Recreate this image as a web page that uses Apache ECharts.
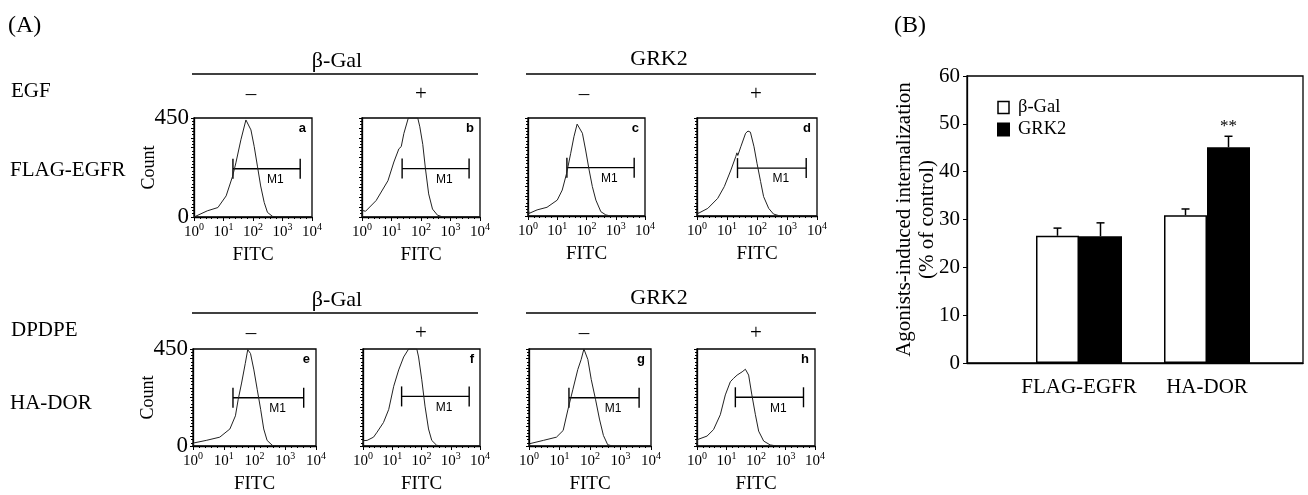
<!DOCTYPE html>
<html>
<head>
<meta charset="utf-8">
<script src="https://cdn.jsdelivr.net/npm/echarts@6/dist/echarts.min.js"></script>
<style>
html, body { margin: 0; padding: 0; background: #fff; }
#main { width: 1308px; height: 495px; }
</style>
</head>
<body>
<div id="main"></div>
<script>
// (A) flow histograms, points are [log10 FITC, count]
var histA = [[0,0],[0.03,9],[0.45,28],[0.81,43],[1.09,96],[1.31,186],[1.42,246],[1.59,351],[1.76,441],[1.82,450],[1.93,396],[2.04,321],[2.15,231],[2.26,141],[2.38,66],[2.49,21],[2.66,3],[2.82,0],[4,0]];
var histB = [[0,0],[0.01,30],[0.12,26],[0.48,75],[0.88,165],[1.08,250],[1.25,310],[1.33,320],[1.42,380],[1.57,450],[1.89,450],[1.96,410],[2.06,330],[2.15,220],[2.26,105],[2.39,36],[2.56,8],[2.75,0],[4,0]];
var histC = [[0,0],[0.01,30],[0.04,12],[0.31,28],[0.65,40],[1.0,73],[1.17,119],[1.32,196],[1.46,288],[1.57,364],[1.68,422],[1.74,425],[1.86,380],[1.97,303],[2.09,211],[2.2,135],[2.32,73],[2.49,20],[2.66,5],[2.83,0],[4,0]];
var histD = [[0,0],[0.01,25],[0.04,12],[0.36,35],[0.69,81],[0.91,135],[1.13,211],[1.29,272],[1.33,290],[1.36,278],[1.46,318],[1.62,380],[1.7,390],[1.78,385],[1.9,318],[2.0,242],[2.12,158],[2.22,89],[2.39,35],[2.55,9],[2.77,0],[4,0]];
var histE = [[0,0],[0.02,14],[0.43,26],[0.87,41],[1.2,79],[1.38,140],[1.47,216],[1.58,292],[1.7,383],[1.78,447],[1.87,429],[1.98,353],[2.09,261],[2.2,170],[2.3,79],[2.41,26],[2.58,3],[2.74,0],[4,0]];
var histF = [[0,0],[0.02,25],[0.14,26],[0.36,41],[0.48,64],[0.7,109],[0.88,170],[1.05,277],[1.22,353],[1.39,413],[1.56,450],[1.84,450],[1.9,413],[2.01,307],[2.12,185],[2.24,79],[2.35,26],[2.52,3],[2.75,0],[4,0]];
var histG = [[0,0],[0.03,11],[0.47,26],[0.9,41],[1.12,72],[1.28,171],[1.44,263],[1.6,355],[1.71,401],[1.8,450],[1.93,401],[2.04,309],[2.18,217],[2.31,125],[2.44,49],[2.58,6],[2.74,0],[4,0]];
var histH = [[0,0],[0.02,30],[0.06,25],[0.34,46],[0.56,76],[0.79,145],[0.96,237],[1.13,298],[1.24,314],[1.36,329],[1.53,344],[1.64,356],[1.75,329],[1.86,237],[1.98,145],[2.09,69],[2.26,23],[2.48,5],[2.71,0],[4,0]];
var panelLetters = ['a', 'b', 'c', 'd', 'e', 'f', 'g', 'h'];
// M1 marker: [from, to, level]
var gates = [[1.32,3.6,219],[1.36,3.63,220],[1.33,3.63,222],[1.35,3.64,220],[1.3,3.6,224],[1.32,3.63,230],[1.31,3.61,224],[1.3,3.61,226]];
var xTicksA = [0, 1, 2, 3, 4];
var yMaxA = 450;

// (B) internalization
var groups = ['FLAG-EGFR', 'HA-DOR'];
var betaGal = [26.6, 30.9];
var betaGalErr = [1.6, 1.3];
var grk2 = [26.5, 45.1];
var grk2Err = [2.8, 2.3];
var signif = ['', '**'];

var serif = 'Liberation Serif';
var hists = [histA, histB, histC, histD, histE, histF, histG, histH];
// left, top, width, height of each small plot
var boxes = [[194,118,118,99],[362,118,118,99],[528,118,117,98],[697,118,120,98],
             [193,349,123,98],[363,349,117,98],[529,349,122,98],[697,349,118,99]];

var grids = [], xAxes = [], yAxes = [], series = [], graphics = [];

hists.forEach(function (h, i) {
    var b = boxes[i];
    var first = (i === 0 || i === 4);
    grids.push({left: b[0], top: b[1], width: b[2], height: b[3], show: true,
        borderColor: '#000', borderWidth: 1.3});
    xAxes.push({
        gridIndex: i, type: 'value', min: xTicksA[0], max: xTicksA[xTicksA.length - 1], interval: 1,
        axisLine: {lineStyle: {color: '#000', width: 1.3}},
        axisTick: {length: 4, lineStyle: {color: '#000'}},
        minorTick: {show: true, splitNumber: 5, length: 2, lineStyle: {color: '#000'}},
        splitLine: {show: false},
        axisLabel: {
            margin: 5, color: '#000',
            formatter: function (v) { return '{b|10}{s|' + v + '}'; },
            rich: {
                b: {fontFamily: serif, fontSize: 15, lineHeight: 18, verticalAlign: 'bottom', color: '#000'},
                s: {fontFamily: serif, fontSize: 10, lineHeight: 10, verticalAlign: 'top', color: '#000'}
            }
        },
        name: 'FITC', nameLocation: 'middle', nameGap: 29,
        nameTextStyle: {fontFamily: serif, fontSize: 19, color: '#000'}
    });
    yAxes.push({
        gridIndex: i, type: 'value', min: 0, max: yMaxA, interval: 45,
        axisLine: {lineStyle: {color: '#000', width: 1.3}},
        axisTick: {length: 3, lineStyle: {color: '#000'}},
        minorTick: {show: true, splitNumber: 3, length: 2, lineStyle: {color: '#000'}},
        splitLine: {show: false},
        axisLabel: {
            show: first, margin: 5, color: '#000', fontFamily: serif, fontSize: 23,
            formatter: function (v) { return (v === 0 || v === yMaxA) ? v : ''; }
        },
        name: first ? 'Count' : '', nameLocation: 'middle', nameRotate: 90, nameGap: 36,
        nameMoveOverlap: false,
        nameTextStyle: {fontFamily: serif, fontSize: 18, color: '#000'}
    });
    series.push({
        type: 'line', xAxisIndex: i, yAxisIndex: i, data: h, showSymbol: false,
        silent: true, lineStyle: {color: '#222', width: 1}
    });
    series.push({
        type: 'custom', xAxisIndex: i, yAxisIndex: i, data: [gates[i]], silent: true,
        renderItem: function (params, api) {
            var p1 = api.coord([api.value(0), api.value(2)]);
            var p2 = api.coord([api.value(1), api.value(2)]);
            var st = {stroke: '#000', lineWidth: 1.4};
            return {type: 'group', children: [
                {type: 'line', shape: {x1: p1[0], y1: p1[1], x2: p2[0], y2: p2[1]}, style: st},
                {type: 'line', shape: {x1: p1[0], y1: p1[1] - 10, x2: p1[0], y2: p1[1] + 10}, style: st},
                {type: 'line', shape: {x1: p2[0], y1: p2[1] - 10, x2: p2[0], y2: p2[1] + 10}, style: st},
                {type: 'text', x: p1[0] + 0.63 * (p2[0] - p1[0]), y: p1[1] + 11,
                    style: {text: 'M1', fontFamily: 'Liberation Sans', fontSize: 12, fill: '#000',
                        align: 'center', verticalAlign: 'middle'}}
            ]};
        }
    });
    graphics.push({type: 'text', x: b[0] + b[2] - 6, y: b[1] + 10,
        style: {text: panelLetters[i], fontFamily: 'Liberation Sans', fontWeight: 'bold', fontSize: 13,
            fill: '#000', align: 'right', verticalAlign: 'middle'}});
});

// panel B: frame grid (8) and bar grid (9)
grids.push({left: 967, top: 76, right: 5, height: 287, show: true, borderColor: '#000', borderWidth: 1.3});
grids.push({left: 1015, top: 76, width: 256, height: 287});
xAxes.push({gridIndex: 8, type: 'value', min: 0, max: 1, axisLine: {lineStyle: {color: '#000', width: 1.3}},
    axisTick: {show: false}, axisLabel: {show: false}, splitLine: {show: false}});
yAxes.push({gridIndex: 8, type: 'value', min: 0, max: 60, interval: 10,
    axisLine: {show: true, lineStyle: {color: '#000', width: 1.3}},
    axisTick: {show: true, length: 4, lineStyle: {color: '#000'}},
    splitLine: {show: false},
    axisLabel: {margin: 7, color: '#000', fontFamily: serif, fontSize: 21},
    name: 'Agonists-induced internalization\n(% of control)', nameLocation: 'middle', nameRotate: 90,
    nameGap: 28, nameMoveOverlap: false,
    nameTextStyle: {fontFamily: serif, fontSize: 21, lineHeight: 23, color: '#000'}});
xAxes.push({gridIndex: 9, type: 'category', data: groups, axisLine: {show: false}, axisTick: {show: false},
    axisLabel: {interval: 0, margin: 14, color: '#000', fontFamily: serif, fontSize: 21}});
yAxes.push({gridIndex: 9, type: 'value', min: 0, max: 60, show: false});

var barW = 43;
series.push({name: 'β-Gal', type: 'bar', xAxisIndex: 9, yAxisIndex: 9, data: betaGal, barWidth: barW,
    barGap: '0%', itemStyle: {color: '#fff', borderColor: '#000', borderWidth: 1.5}});
series.push({name: 'GRK2', type: 'bar', xAxisIndex: 9, yAxisIndex: 9, data: grk2, barWidth: barW,
    barGap: '0%', itemStyle: {color: '#000', borderColor: '#000', borderWidth: 1.5}});

var errData = [];
groups.forEach(function (g, k) {
    errData.push([k, betaGal[k], betaGalErr[k], -1, '']);
    errData.push([k, grk2[k], grk2Err[k], 1, signif[k]]);
});
series.push({
    type: 'custom', xAxisIndex: 9, yAxisIndex: 9, data: errData, silent: true,
    renderItem: function (params, api) {
        var base = api.coord([api.value(0), api.value(1)]);
        var top = api.coord([api.value(0), api.value(1) + api.value(2)]);
        var x = base[0] + api.value(3) * barW / 2;
        var st = {stroke: '#000', lineWidth: 1.5};
        var kids = [
            {type: 'line', shape: {x1: x, y1: base[1], x2: x, y2: top[1]}, style: st},
            {type: 'line', shape: {x1: x - 4, y1: top[1], x2: x + 4, y2: top[1]}, style: st}
        ];
        var sig = errData[params.dataIndex][4];
        if (sig) {
            kids.push({type: 'text', x: x, y: top[1] - 10, style: {text: sig, fontFamily: serif,
                fontSize: 17, fill: '#000', align: 'center', verticalAlign: 'middle'}});
        }
        return {type: 'group', children: kids};
    }
});

// headings of panel A
function txt(s, x, y, align, size) {
    graphics.push({type: 'text', x: x, y: y, style: {text: s, fontFamily: serif, fontSize: size || 21,
        fill: '#000', align: align || 'left', verticalAlign: 'middle'}});
}
function hline(x1, x2, y) {
    graphics.push({type: 'line', shape: {x1: x1, y1: y, x2: x2, y2: y}, style: {stroke: '#000', lineWidth: 1.5}});
}
txt('(A)', 8, 26, 'left', 24);
txt('(B)', 894, 26, 'left', 24);
[0, 239].forEach(function (dy, r) {
    txt('β-Gal', 337, 61 + dy, 'center', 22);
    txt('GRK2', 659, 59 + dy, 'center', 22);
    hline(192, 478, 74 + dy);
    hline(526, 816, 74 + dy);
    txt(r === 0 ? 'EGF' : 'DPDPE', 11, 91 + dy);
    txt('–', 251, 94 + dy, 'center');
    txt('+', 421, 94 + dy, 'center');
    txt('–', 584, 94 + dy, 'center');
    txt('+', 756, 94 + dy, 'center');
});
txt('FLAG-EGFR', 10, 170);
txt('HA-DOR', 10, 403);

var option = {
    animation: false,
    backgroundColor: '#fff',
    textStyle: {fontFamily: serif},
    grid: grids,
    xAxis: xAxes,
    yAxis: yAxes,
    legend: {
        left: 997, top: 98, orient: 'vertical', itemWidth: 11, itemHeight: 12, itemGap: 3, padding: 0,
        textStyle: {fontFamily: serif, fontSize: 18.5, color: '#000', padding: [0, 0, 0, 4]},
        data: [
            {name: 'β-Gal', icon: 'rect', itemStyle: {color: '#fff', borderColor: '#000', borderWidth: 1.5}},
            {name: 'GRK2', icon: 'rect', itemStyle: {color: '#000'}}
        ],
        selectedMode: false
    },
    graphic: graphics,
    series: series
};

var chart = echarts.init(document.getElementById('main'));
chart.setOption(option);
window.addEventListener('resize', function () {
    chart.resize();
});
</script>
</body>
</html>
